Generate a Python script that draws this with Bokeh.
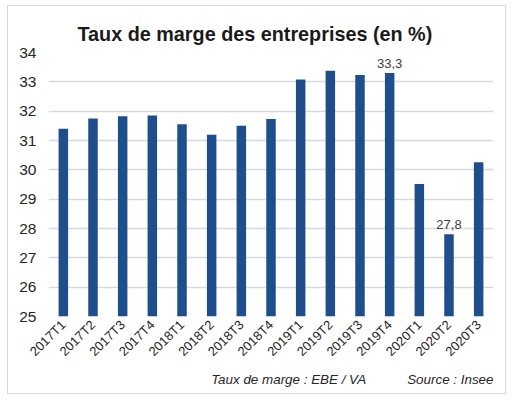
import math
from bokeh.plotting import figure
from bokeh.models import ColumnDataSource, Range1d, Title, FixedTicker
from bokeh.embed import file_html
from bokeh.resources import INLINE
from bokeh.core.properties import value

quarters = ["2017T1", "2017T2", "2017T3", "2017T4", "2018T1", "2018T2", "2018T3", "2018T4",
            "2019T1", "2019T2", "2019T3", "2019T4", "2020T1", "2020T2", "2020T3"]
taux = [31.4, 31.75, 31.83, 31.85, 31.55, 31.2, 31.5, 31.73,
        33.08, 33.38, 33.23, 33.3, 29.52, 27.8, 30.26]
annotated = {"2019T4": "33,3", "2020T2": "27,8"}
title_text = "Taux de marge des entreprises (en %)"
note_text = "Taux de marge : EBE / VA"
source_text = "Source : Insee"

FONT = "Liberation Sans"
BLUE = "#1f4e8c"

p = figure(x_range=quarters, y_range=Range1d(25, 34), width=499, height=389,
           output_backend="svg", toolbar_location=None,
           min_border_left=40, min_border_right=14, min_border_top=46, min_border_bottom=79,
           styles={"margin-left": "7px", "margin-top": "5px", "border": "1px solid #d9d9d9"})
p.outline_line_color = None
p.background_fill_color = "white"
p.border_fill_color = "white"

p.title = Title(text=title_text, text_font=FONT, text_font_size="19.8px", text_font_style="bold",
                text_color="#1a1a1a", align="left", offset=29, standoff=16)

src = ColumnDataSource(dict(q=quarters, v=taux))
p.vbar(x="q", top="v", bottom=25, width=0.32, source=src, color=BLUE, line_color=None)

lab_x = [q for q in quarters if q in annotated]
lab_y = [taux[quarters.index(q)] for q in lab_x]
lab_t = [annotated[q] for q in lab_x]
p.text(x=lab_x, y=lab_y, text=lab_t, text_font=value(FONT), text_font_size="13px",
       text_color="#404040", text_align="center", text_baseline="bottom", y_offset=-5)

p.yaxis.ticker = FixedTicker(ticks=list(range(25, 35)))
p.ygrid.grid_line_color = "#d9d9d9"
p.ygrid.grid_line_width = 1.5
p.xgrid.grid_line_color = None
for ax in (p.xaxis, p.yaxis):
    ax.axis_line_color = None
    ax.major_tick_line_color = None
    ax.minor_tick_line_color = None
    ax.major_tick_out = 0
    ax.major_tick_in = 0
    ax.major_label_text_font = FONT
    ax.major_label_text_color = "#262626"
p.yaxis.major_label_text_font_size = "15.5px"
p.yaxis.major_label_standoff = 12
p.xaxis.major_label_text_font_size = "13px"
p.xaxis.major_label_orientation = math.pi / 4
p.xaxis.major_label_standoff = 6

gap = "\u00a0" * 11
p.add_layout(Title(text=note_text + gap + source_text, text_font=FONT, text_font_size="13.4px",
                   text_font_style="italic", text_color="#262626", align="right",
                   standoff=5), "below")

open("out.html", "w").write(file_html(p, INLINE))
